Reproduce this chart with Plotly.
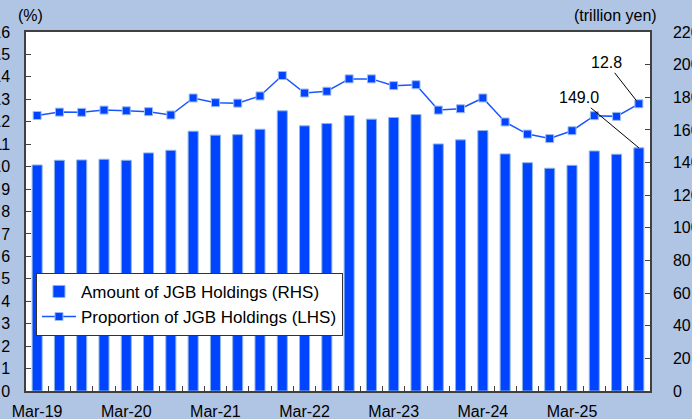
import plotly.graph_objects as go

quarters = [
    "Mar-19", "Jun-19", "Sep-19", "Dec-19",
    "Mar-20", "Jun-20", "Sep-20", "Dec-20",
    "Mar-21", "Jun-21", "Sep-21", "Dec-21",
    "Mar-22", "Jun-22", "Sep-22", "Dec-22",
    "Mar-23", "Jun-23", "Sep-23", "Dec-23",
    "Mar-24", "Jun-24", "Sep-24", "Dec-24",
    "Mar-25", "Jun-25", "Sep-25", "Dec-25",
]
amount_tn_yen = [
    138.5, 141.4, 141.6, 142.0,
    141.4, 145.9, 147.5, 159.2,
    156.8, 157.1, 160.4, 171.7,
    162.5, 163.9, 168.8, 166.6,
    167.6, 169.4, 151.4, 153.9,
    159.6, 145.3, 139.9, 136.5,
    138.3, 147.1, 145.1, 149.0,
]
proportion_pct = [
    12.28, 12.43, 12.42, 12.52,
    12.49, 12.45, 12.30, 13.06,
    12.85, 12.83, 13.15, 14.06,
    13.28, 13.36, 13.91, 13.91,
    13.61, 13.65, 12.52, 12.58,
    13.06, 11.99, 11.45, 11.25,
    11.60, 12.27, 12.24, 12.8,
]
tick_labels = [q if q.startswith("Mar") else "" for q in quarters]

FONT = "Arial, Liberation Sans, sans-serif"
AXIS = "#404040"

fig = go.Figure()
fig.add_trace(go.Bar(
    x=quarters, y=amount_tn_yen, name="Amount of JGB Holdings (RHS)",
    marker=dict(color="#0044FF", line=dict(color="#8DB4E2", width=1)),
    yaxis="y",
))
fig.add_trace(go.Scatter(
    x=quarters, y=proportion_pct, name="Proportion of JGB Holdings (LHS)",
    mode="lines+markers",
    line=dict(color="#1A56FF", width=1.5),
    marker=dict(symbol="square", size=8, color="#0044FF",
                line=dict(color="#9DBCF0", width=1)),
    yaxis="y2",
))

fig.update_layout(
    width=692, height=419,
    margin=dict(l=26, r=42, t=32, b=28, autoexpand=False),
    paper_bgcolor="#B0C4E4",
    plot_bgcolor="white",
    font=dict(family=FONT, size=16, color="black"),
    bargap=0.55,
    showlegend=True,
    legend=dict(
        x=0.016, y=0.329, xanchor="left", yanchor="top",
        bgcolor="white", bordercolor="#333333", borderwidth=1,
        font=dict(size=17), itemwidth=34, tracegroupgap=0,
    ),
    xaxis=dict(
        type="category", tickvals=quarters, ticktext=tick_labels,
        range=[-0.5, len(quarters) - 0.5],
        ticks="inside", tickson="boundaries", ticklen=5, tickcolor=AXIS,
        showline=True, linecolor=AXIS, linewidth=1.5, mirror=True,
        showgrid=False, tickangle=0, automargin=False, ticklabelstandoff=5,
    ),
    yaxis=dict(
        side="right", range=[0, 220], dtick=20,
        ticks="inside", ticklen=5, tickcolor=AXIS,
        showline=True, linecolor=AXIS, linewidth=1.5,
        showgrid=False, zeroline=False, ticklabelstandoff=18,
        automargin=False,
    ),
    yaxis2=dict(
        overlaying="y", side="left", range=[0, 16], dtick=1,
        ticks="inside", ticklen=5, tickcolor=AXIS,
        showline=True, linecolor=AXIS, linewidth=1.5,
        showgrid=False, zeroline=False, ticklabelstandoff=11,
        automargin=False,
    ),
    annotations=[
        dict(text="(%)", xref="paper", yref="paper", x=(16 - 26) / 624, y=1.047,
             xanchor="left", yanchor="middle", showarrow=False),
        dict(text="(trillion yen)", xref="paper", yref="paper", x=(659 - 26) / 624,
             y=1.047, xanchor="right", yanchor="middle", showarrow=False),
        dict(text=f"{proportion_pct[-1]:.1f}", x=quarters[-1], y=proportion_pct[-1],
             xref="x", yref="y2", ax=-32, ay=-41, showarrow=True, arrowhead=0,
             arrowwidth=1, arrowcolor="black", standoff=4),
        dict(text=f"{amount_tn_yen[-1]:.1f}", x=quarters[-1], y=amount_tn_yen[-1],
             xref="x", yref="y", ax=-60, ay=-50, showarrow=True, arrowhead=0,
             arrowwidth=1, arrowcolor="black", standoff=0),
    ],
)

fig.write_html("out.html", config={"displayModeBar": False},
               post_script="document.body.style.margin='0';document.body.style.overflow='hidden';")
